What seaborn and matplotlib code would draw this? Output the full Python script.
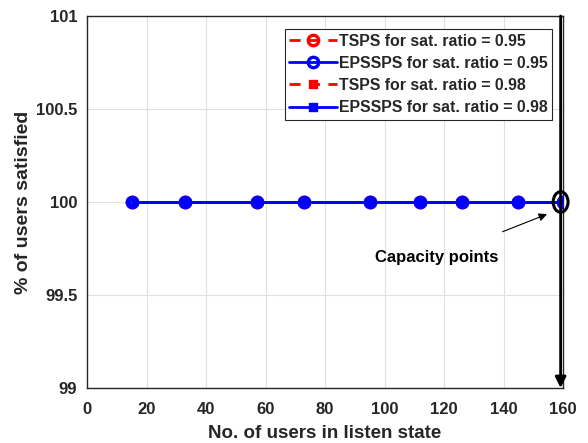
import matplotlib
matplotlib.use("Agg")
import matplotlib.pyplot as plt
import seaborn as sns
import pandas as pd
from matplotlib.patches import Ellipse

users = [15, 33, 57, 73, 95, 112, 126, 145, 160]
tsps_095 = [100, 100, 100, 100, 100, 100, 100, 100, 100]
epssps_095 = [100, 100, 100, 100, 100, 100, 100, 100, 100]
tsps_098 = [100, 100, 100, 100, 100, 100, 100, 100, 100]
epssps_098 = [100, 100, 100, 100, 100, 100, 100, 100, 100]
labels = ["TSPS for sat. ratio = 0.95", "EPSSPS for sat. ratio = 0.95",
          "TSPS for sat. ratio = 0.98", "EPSSPS for sat. ratio = 0.98"]
xticks = [0, 20, 40, 60, 80, 100, 120, 140, 160]
yticks = [99, 99.5, 100, 100.5, 101]
ytick_labels = ["99", "99.5", "100", "100.5", "101"]

sns.set_style("whitegrid")
plt.rcParams['font.family'] = ['Liberation Sans', 'DejaVu Sans']
plt.rcParams['font.weight'] = 'bold'

fig = plt.figure(figsize=(5.88, 4.43), dpi=100)
ax = fig.add_axes([87/588, 1 - 388/443, (563-87)/588, (388-16)/443])

series = [tsps_095, epssps_095, tsps_098, epssps_098]
colors = ["#ff0000", "#0000ff", "#ff0000", "#0000ff"]
styles = [(0, (4, 3)), "-", (0, (4, 3)), "-"]
markers = ["o", "o", "s", "s"]
msizes = [7.5, 7.5, 5, 5]
zorders = [3, 6, 2, 4]
for vals, lab, c, ls, m, ms, z in zip(series, labels, colors, styles, markers, msizes, zorders):
    df = pd.DataFrame({"x": users, "y": vals})
    sns.lineplot(data=df, x="x", y="y", ax=ax, color=c, linestyle=ls, marker=m,
                 markersize=ms, markerfacecolor="none", markeredgecolor=c,
                 markeredgewidth=2.4, linewidth=2, label=lab, zorder=z)

ax.set_xlim(0, 160)
ax.set_ylim(99, 101)
ax.set_xticks(xticks)
ax.set_yticks(yticks)
ax.set_yticklabels(ytick_labels)
ax.tick_params(axis='both', labelsize=12, direction='in', length=4, color='#262626',
               labelcolor='#262626', width=1)
ax.tick_params(axis='x', pad=10)
ax.tick_params(axis='y', pad=7)
for t in ax.get_xticklabels() + ax.get_yticklabels():
    t.set_fontweight('bold')
ax.grid(True, color='#e0e0e0', linewidth=0.8)
for s in ax.spines.values():
    s.set_color('#262626')
    s.set_linewidth(1)
ax.set_xlabel("No. of users in listen state", fontsize=13.5, fontweight='bold', color='#262626', labelpad=6)
ax.set_ylabel("% of users satisfied", fontsize=14, fontweight='bold', color='#262626', labelpad=3)

# capacity marking
ax.add_patch(Ellipse((159.2, 100), 5.0, 0.11, fill=False, edgecolor='black', linewidth=2.2,
                     zorder=7, clip_on=False))
ax.annotate("", xy=(159.2, 99.0), xytext=(159.2, 101), arrowprops=dict(arrowstyle='-|>', color='black',
            lw=2, mutation_scale=16, shrinkA=0, shrinkB=0), annotation_clip=False, zorder=8)
ax.annotate("Capacity points", xy=(155.5, 99.94), xytext=(117.5, 99.70), fontsize=12,
            fontweight='bold', ha='center', va='center', color='black',
            arrowprops=dict(arrowstyle='-|>', color='black', lw=0.8, shrinkA=30, mutation_scale=12))

leg = ax.legend(loc='upper right', bbox_to_anchor=(0.977, 0.965), prop={'size': 11.4, 'weight': 'bold'},
                frameon=True, fancybox=False, edgecolor='#262626', framealpha=1, handlelength=3.0,
                borderpad=0.3, labelspacing=0.45, handletextpad=0.1, borderaxespad=0)
leg.get_frame().set_linewidth(0.8)
leg.set_zorder(10)

fig.savefig("out.png", dpi=100)
